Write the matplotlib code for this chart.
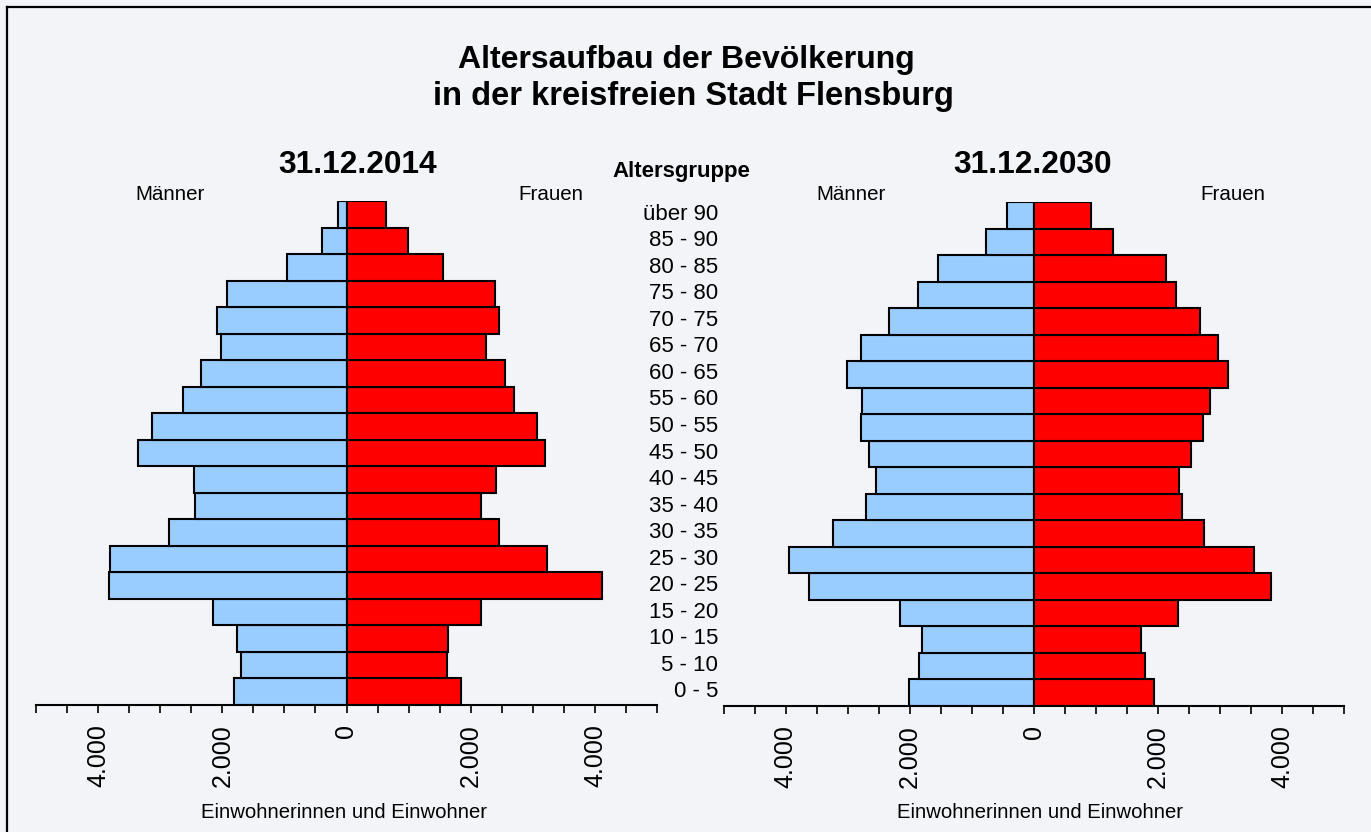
import matplotlib
matplotlib.use("Agg")
import matplotlib.pyplot as plt
import matplotlib.transforms as mtransforms
from matplotlib.lines import Line2D
import numpy as np

plt.rcParams['font.family'] = ['Liberation Sans', 'DejaVu Sans']

ages = ["0 - 5", "5 - 10", "10 - 15", "15 - 20", "20 - 25", "25 - 30", "30 - 35",
        "35 - 40", "40 - 45", "45 - 50", "50 - 55", "55 - 60", "60 - 65", "65 - 70",
        "70 - 75", "75 - 80", "80 - 85", "85 - 90", "über 90"]

men_2014 = [1806, 1698, 1758, 2150, 3823, 3801, 2855, 2446, 2456, 3350,
            3134, 2630, 2350, 2020, 2085, 1930, 963, 400, 140]
women_2014 = [1850, 1613, 1629, 2161, 4108, 3221, 2457, 2172, 2408, 3199,
              3075, 2705, 2548, 2253, 2457, 2392, 1550, 985, 630]
men_2030 = [2011, 1844, 1801, 2150, 3618, 3941, 3242, 2710, 2537, 2661,
            2780, 2769, 3005, 2790, 2333, 1866, 1537, 774, 430]
women_2030 = [1941, 1785, 1721, 2317, 3828, 3548, 2737, 2387, 2344, 2527,
              2720, 2844, 3129, 2968, 2672, 2285, 2129, 1280, 925]

years = ["31.12.2014", "31.12.2030"]
tick_labels = {-4000: "4.000", -2000: "2.000", 0: "0", 2000: "2.000", 4000: "4.000"}

BG = "#f2f4f8"
BLUE = "#99ccff"
RED = "#ff0000"
W, H = 1371, 832


def fx(px):
    return px / W


def fy(py):
    return 1 - py / H


def draw_pyramid(ax, men, women):
    y = np.arange(len(ages))
    ax.barh(y, -np.array(men), height=1.0, color=BLUE, edgecolor="black", linewidth=1.5)
    ax.barh(y, women, height=1.0, color=RED, edgecolor="black", linewidth=1.5)
    ax.set_xlim(-5000, 5000)
    ax.set_ylim(-0.5, len(ages) - 0.5)
    ax.set_facecolor(BG)
    for s in ["left", "right", "top"]:
        ax.spines[s].set_visible(False)
    ax.spines["bottom"].set_linewidth(1.5)
    ticks = np.arange(-5000, 5001, 500)
    ax.set_xticks(ticks)
    ax.set_xticklabels([tick_labels.get(int(t), "") for t in ticks], rotation=90,
                       fontsize=18, va="top")
    ax.tick_params(axis="x", length=6, width=1.2, pad=8)
    ax.set_yticks([])


fig = plt.figure(figsize=(W / 100, H / 100), dpi=100, facecolor=BG)

ax1 = fig.add_axes([fx(36), fy(705), fx(621), 504 / H])
ax2 = fig.add_axes([fx(723.5), fy(706), fx(620.5), 504 / H])
draw_pyramid(ax1, men_2014, women_2014)
draw_pyramid(ax2, men_2030, women_2030)

# age group labels between the two pyramids
trans = mtransforms.blended_transform_factory(fig.transFigure, ax1.transData)
for i, lab in enumerate(ages):
    fig.text(fx(718), i, lab, transform=trans, ha="right", va="center", fontsize=16)

fig.text(fx(686), fy(60), "Altersaufbau der Bevölkerung", ha="center", va="center",
         fontsize=23, fontweight="bold")
fig.text(fx(693), fy(97), "in der kreisfreien Stadt Flensburg", ha="center", va="center",
         fontsize=23.5, fontweight="bold")
fig.text(fx(358), fy(165), years[0], ha="center", va="center", fontsize=22.8, fontweight="bold")
fig.text(fx(1033), fy(165), years[1], ha="center", va="center", fontsize=22.8, fontweight="bold")
fig.text(fx(681), fy(172), "Altersgruppe", ha="center", va="center", fontsize=16,
         fontweight="bold")

for xm, xf in [(170, 551), (851, 1233)]:
    fig.text(fx(xm), fy(195), "Männer", ha="center", va="center", fontsize=14.8)
    fig.text(fx(xf), fy(195), "Frauen", ha="center", va="center", fontsize=14.8)

for xc in [344, 1040]:
    fig.text(fx(xc), fy(812), "Einwohnerinnen und Einwohner", ha="center", va="center",
             fontsize=14.6)

# frame lines at top and left edge
fig.add_artist(Line2D([fx(7), 1], [fy(6.5), fy(6.5)], color="black", linewidth=1.6,
                      transform=fig.transFigure))
fig.add_artist(Line2D([fx(7), fx(7)], [fy(6.5), 0], color="black", linewidth=1.6,
                      transform=fig.transFigure))

fig.savefig("out.png", dpi=100, facecolor=BG)
